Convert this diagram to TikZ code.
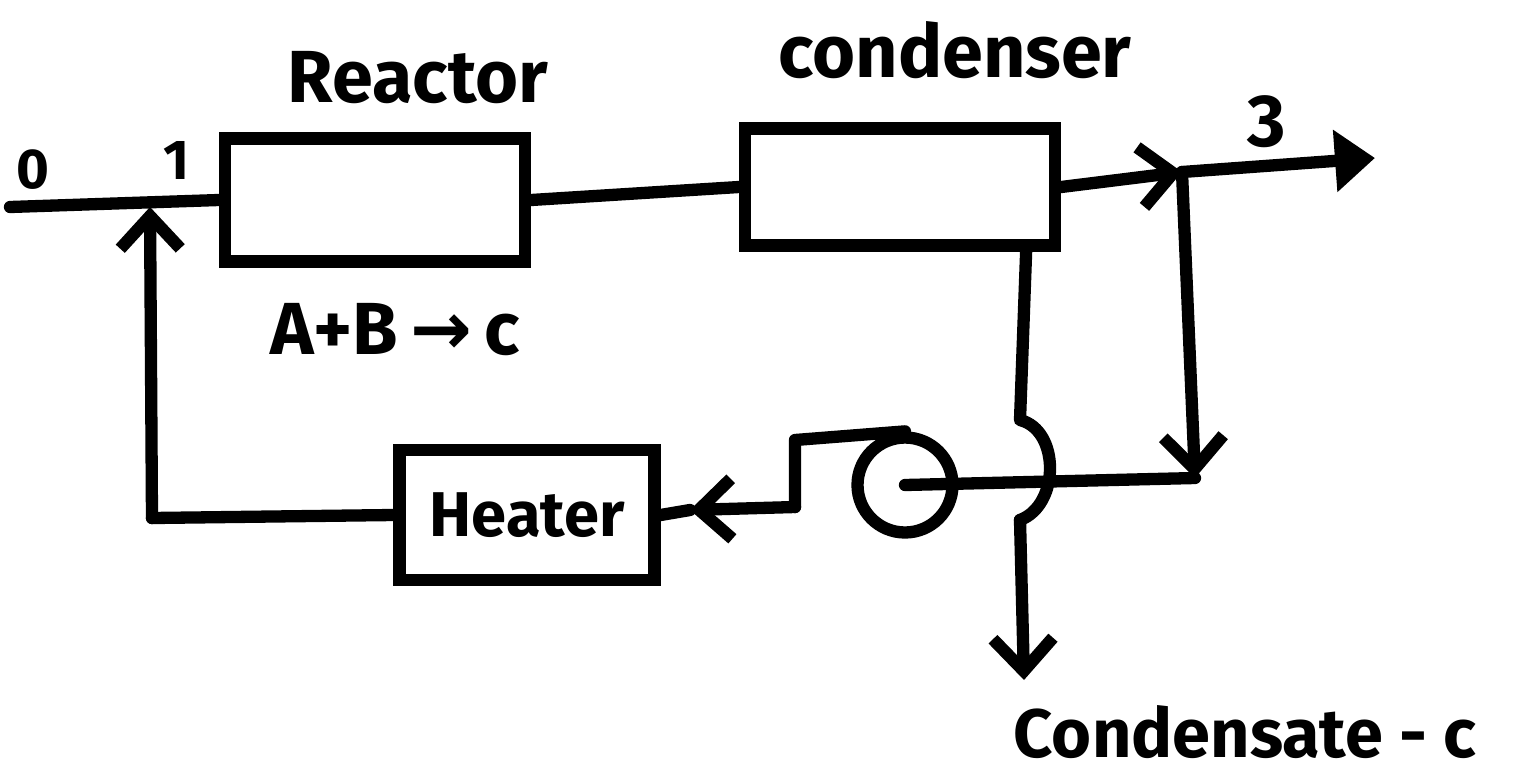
\documentclass[tikz,border=0pt]{standalone}
\usepackage{fontspec}
\setmainfont{Fira Sans}
\newfontfamily\arrowfont{DejaVu Sans}
\usetikzlibrary{arrows.meta,calc}
\begin{document}
\begin{tikzpicture}[x=0.02cm,y=-0.02cm,
  flow/.style={line width=7pt, line cap=round, line join=round},
  unit/.style={draw, line width=7pt, rectangle, inner sep=0pt},
  lbl/.style={font=\fontsize{42}{50}\selectfont\bfseries, inner sep=0pt},
  small/.style={font=\fontsize{32}{38}\selectfont\bfseries, inner sep=0pt},
  barb/.style={-{Straight Barb[length=6.5mm,width=12mm]}},
  head/.style={-{Triangle[length=8mm,width=12mm]}}
]
\useasboundingbox (0,0) rectangle (1515,778);

% process units
\node[unit, minimum width=6cm, minimum height=2.46cm] (reactor) at (375,200) {};
\node[unit, minimum width=6.2cm, minimum height=2.34cm] (condenser) at (900,187) {};
\node[unit, minimum width=5.1cm, minimum height=2.6cm] (heater) at (527,515)
  {\fontsize{36}{42}\selectfont\bfseries Heater};
\node[draw, circle, line width=7pt, minimum size=1.9cm] (mixer) at (905,485) {};

% labels
\node[lbl] (lreactor) at (418,78) {Reactor};
\node[lbl] (lcond) at (955,50) {condenser};
\node[lbl] (lrxn) at (395,330) {A+B\,{\arrowfont →}\,c};
\node[small] (l0) at (33,170) {0};
\node[small] (l1) at (177,160) {1};
\node[lbl] (l3) at (1267,122) {3};
\node[lbl, font=\fontsize{39}{46}\selectfont\bfseries] (lcs) at (1245,732) {Condensate - c};

% stream points
\coordinate (feed) at (10,207);
\coordinate (mix1) at (150,207);
\coordinate (split) at (1182,172);
\coordinate (out) at (1375,158);
\coordinate (rc) at (1195,478);
\coordinate (cb) at ([xshift=-0.7cm]condenser.south east);
\coordinate (hop1) at (1020,420);
\coordinate (hop2) at (1020,520);
\coordinate (cout) at (1024,680);
\coordinate (mo1) at (795,440);
\coordinate (mo2) at (795,507);
\coordinate (hin) at (690,510);
\coordinate (hl) at (152,518);

% main line
\draw[flow] (feed) -- (reactor.west);
\draw[flow] (reactor.east) -- (condenser.west);
\draw[flow, barb] (condenser.east) -- (split);
\draw[flow, head] (split) -- (out);

% recycle branch
\draw[flow, barb] (split) -- (rc);
\draw[flow] (rc) -- (mixer.center);
\draw[flow] (mixer.north) -- (mo1) -- (mo2);
\draw[flow, barb] (mo2) -- (hin);
\draw[flow] (hin) -- (heater.east);
\draw[flow] (heater.west) -- (hl);
\draw[flow, barb] (hl) -- (mix1);

% condensate leg hopping over the recycle line
\draw[flow] (cb) -- (hop1) .. controls (1060,430) and (1060,505) .. (hop2);
\draw[flow, barb] (hop2) -- (cout);
\end{tikzpicture}
\end{document}
